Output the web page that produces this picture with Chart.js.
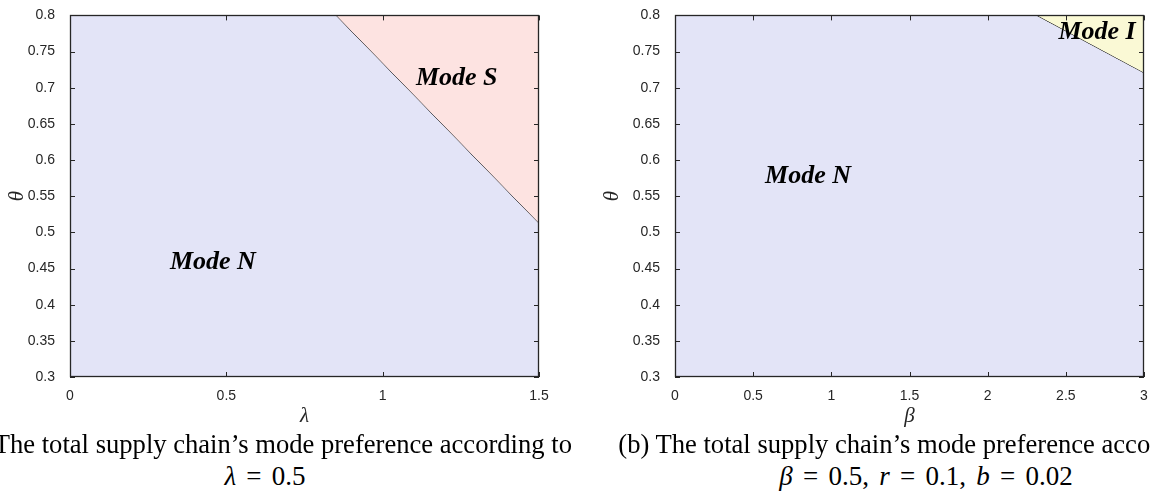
<!DOCTYPE html>
<html>
<head>
<meta charset="utf-8">
<script src="https://cdn.jsdelivr.net/npm/chart.js@4.4.0/dist/chart.umd.min.js"></script>
<style>
  html, body { margin: 0; padding: 0; background: #fff; }
  body { width: 1150px; height: 496px; overflow: hidden; position: relative; }
  canvas { position: absolute; top: 0; }
  #chartA { left: 0; }
  #chartB { left: 590px; }
  .cap {
    position: absolute; white-space: nowrap; line-height: 1;
    font-family: "Liberation Serif", "Times New Roman", serif; font-size: 26.6px; color: #000;
    transform: translateX(-50%);
  }
  .math { word-spacing: 3.5px; font-size: 27px; }
</style>
</head>
<body>
<canvas id="chartA" width="570" height="430"></canvas>
<canvas id="chartB" width="580" height="430"></canvas>
<div class="cap" style="left:265px; top:431px;">(a) The total supply chain’s mode preference according to</div>
<div class="cap math" style="left:265px; top:463px;"><i>λ</i> = 0.5</div>
<div class="cap" style="left:926px; top:431px;">(b) The total supply chain’s mode preference according to</div>
<div class="cap math" style="left:926px; top:463px;"><i>β</i> = 0.5, <i>r</i> = 0.1, <i>b</i> = 0.02</div>
<script>
// tick values and labels
var thetaTicks = [0.3, 0.35, 0.4, 0.45, 0.5, 0.55, 0.6, 0.65, 0.7, 0.75, 0.8];
var thetaTickLabels = ['0.3', '0.35', '0.4', '0.45', '0.5', '0.55', '0.6', '0.65', '0.7', '0.75', '0.8'];
var lambdaTicks = [0, 0.5, 1, 1.5];
var lambdaTickLabels = ['0', '0.5', '1', '1.5'];
var betaTicks = [0, 0.5, 1, 1.5, 2, 2.5, 3];
var betaTickLabels = ['0', '0.5', '1', '1.5', '2', '2.5', '3'];

// panel (a): lambda vs theta
var aModeNLambda = [0, 0.85, 1.5];
var aModeNTheta = [0.8, 0.8, 0.512];
var aModeSLambda = [0.85, 1.5];
var aModeSTheta = [0.8, 0.512];
var aLabels = ['Mode N', 'Mode S'];
var aLabelLambda = [0.457, 1.237];
var aLabelTheta = [0.459, 0.713];

// panel (b): beta vs theta
var bModeNBeta = [0, 2.31, 3];
var bModeNTheta = [0.8, 0.8, 0.72];
var bModeIBeta = [2.31, 3];
var bModeITheta = [0.8, 0.72];
var bLabels = ['Mode N', 'Mode I'];
var bLabelBeta = [0.851, 2.70];
var bLabelTheta = [0.578, 0.776];

var colN = 'rgb(227, 228, 247)';
var colS = 'rgb(253, 227, 225)';
var colI = 'rgb(250, 249, 213)';
var axisCol = '#262626';

function toPoints(xs, ys) {
  return xs.map(function(x, i) { return { x: x, y: ys[i] }; });
}

// inward ticks on all four sides + box
var boxTicks = {
  id: 'boxTicks',
  afterDraw: function(chart) {
    var ctx = chart.ctx;
    var a = chart.chartArea;
    var x = chart.scales.x, y = chart.scales.y;
    var len = 5;
    ctx.save();
    ctx.strokeStyle = axisCol;
    ctx.lineWidth = 1;
    ctx.beginPath();
    x.ticks.forEach(function(t) {
      var px = Math.round(x.getPixelForValue(t.value)) + 0.5;
      ctx.moveTo(px, a.bottom); ctx.lineTo(px, a.bottom - len);
      ctx.moveTo(px, a.top); ctx.lineTo(px, a.top + len);
    });
    y.ticks.forEach(function(t) {
      var py = Math.round(y.getPixelForValue(t.value)) + 0.5;
      ctx.moveTo(a.left, py); ctx.lineTo(a.left + len, py);
      ctx.moveTo(a.right, py); ctx.lineTo(a.right - len, py);
    });
    ctx.stroke();
    ctx.lineWidth = 1.3;
    ctx.strokeRect(Math.round(a.left) + 0.5, Math.round(a.top) + 0.5,
      Math.round(a.right - a.left) - 1, Math.round(a.bottom - a.top) - 1);
    ctx.restore();
  }
};

var modeLabels = {
  id: 'modeLabels',
  afterDatasetsDraw: function(chart, args, opts) {
    var ctx = chart.ctx;
    ctx.save();
    ctx.font = 'italic bold 26px "Liberation Serif", "Times New Roman", serif';
    ctx.fillStyle = '#000';
    ctx.textAlign = 'center';
    ctx.textBaseline = 'middle';
    opts.names.forEach(function(n, i) {
      ctx.fillText(n, chart.scales.x.getPixelForValue(opts.xs[i]), chart.scales.y.getPixelForValue(opts.ys[i]));
    });
    ctx.restore();
  }
};

function makeChart(id, cfg) {
  return new Chart(document.getElementById(id), {
    type: 'line',
    data: {
      datasets: [
        {
          data: cfg.nPoints,
          fill: 'start',
          backgroundColor: colN,
          borderWidth: 0,
          pointRadius: 0
        },
        {
          data: cfg.otherPoints,
          fill: 'end',
          backgroundColor: cfg.otherColor,
          borderColor: '#000',
          borderWidth: 1,
          pointRadius: 0
        }
      ]
    },
    options: {
      responsive: false,
      animation: false,
      events: [],
      layout: { padding: { left: 0, top: 9, right: cfg.padRight, bottom: 0 } },
      plugins: {
        legend: { display: false },
        tooltip: { enabled: false },
        modeLabels: cfg.labels
      },
      scales: {
        x: {
          type: 'linear',
          min: cfg.xMin,
          max: cfg.xMax,
          grid: { display: false },
          border: { display: false },
          afterBuildTicks: function(scale) {
            scale.ticks = cfg.xTicks.map(function(v) { return { value: v }; });
          },
          afterFit: function(scale) { scale.height = 53; },
          ticks: {
            autoSkip: false,
            maxRotation: 0,
            padding: 3,
            color: axisCol,
            font: { family: '"Liberation Sans", Arial, sans-serif', size: 14 },
            callback: function(v, i) { return cfg.xTickLabels[i]; }
          },
          title: {
            display: true,
            text: cfg.xTitle,
            color: axisCol,
            padding: { top: 0, bottom: 1 },
            font: { family: '"Liberation Serif", "Times New Roman", serif', size: 21, style: 'italic' }
          }
        },
        y: {
          type: 'linear',
          min: 0.3,
          max: 0.8,
          grid: { display: false },
          border: { display: false },
          afterBuildTicks: function(scale) {
            scale.ticks = thetaTicks.map(function(v) { return { value: v }; });
          },
          afterFit: function(scale) { scale.width = cfg.yWidth; },
          ticks: {
            autoSkip: false,
            padding: 7,
            color: axisCol,
            font: { family: '"Liberation Sans", Arial, sans-serif', size: 14 },
            callback: function(v, i) { return thetaTickLabels[i]; }
          },
          title: {
            display: true,
            text: 'θ',
            color: axisCol,
            padding: { top: cfg.thetaPad, bottom: 0 },
            font: { family: '"Liberation Serif", "Times New Roman", serif', size: 21, style: 'italic' }
          }
        }
      }
    },
    plugins: [boxTicks, modeLabels]
  });
}

makeChart('chartA', {
  nPoints: toPoints(aModeNLambda, aModeNTheta),
  otherPoints: toPoints(aModeSLambda, aModeSTheta),
  otherColor: colS,
  labels: { names: aLabels, xs: aLabelLambda, ys: aLabelTheta },
  xMin: 0, xMax: 1.5,
  xTicks: lambdaTicks, xTickLabels: lambdaTickLabels,
  xTitle: 'λ',
  yWidth: 70, thetaPad: 5, padRight: 31
});

makeChart('chartB', {
  nPoints: toPoints(bModeNBeta, bModeNTheta),
  otherPoints: toPoints(bModeIBeta, bModeITheta),
  otherColor: colI,
  labels: { names: bLabels, xs: bLabelBeta, ys: bLabelTheta },
  xMin: 0, xMax: 3,
  xTicks: betaTicks, xTickLabels: betaTickLabels,
  xTitle: 'β',
  yWidth: 85, thetaPad: 10, padRight: 26
});
</script>
</body>
</html>
